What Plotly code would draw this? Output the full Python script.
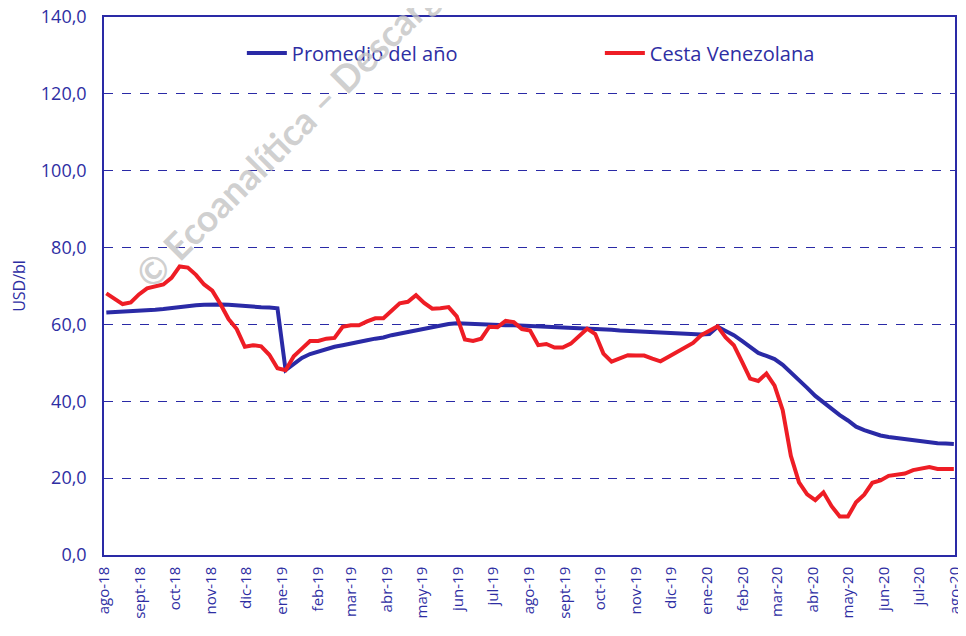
import datetime as dt
import plotly.graph_objects as go

# ---- data (weekly) ----
start_date = dt.date(2018, 8, 3)

cesta_venezolana = [
    68.1, 66.8, 65.3, 65.7, 67.8, 69.4, 69.9, 70.4, 72.1, 75.1,
    74.8, 72.9, 70.4, 68.8, 65.3, 61.4, 58.8, 54.2, 54.6, 54.3,
    52.1, 48.6, 48.1, 51.7, 53.7, 55.7, 55.7, 56.3, 56.5, 59.4,
    59.8, 59.8, 60.8, 61.6, 61.6, 63.4, 65.5, 65.9, 67.6, 65.6,
    64.1, 64.2, 64.5, 62.1, 56.1, 55.7, 56.3, 59.4, 59.3, 60.9,
    60.6, 58.8, 58.4, 54.6, 54.9, 54.0, 54.0, 55.0, 57.0, 58.9,
    57.5, 52.4, 50.3, 51.2, 52.0, 51.9, 51.9, 51.1, 50.4, 51.6,
    52.8, 54.2, 55.2, 57.2, 58.4, 59.5, 56.6, 54.6, 50.3, 45.9,
    45.3, 47.2, 44.1, 37.7, 25.8, 18.9, 15.8, 14.3, 16.3, 12.7,
    10.0, 10.0, 13.7, 15.7, 18.8, 19.4, 20.6, 20.8, 21.2, 22.1,
    22.6, 22.9, 22.4, 22.4, 22.4,
]

promedio_anio = [
    63.1, 63.2, 63.2, 63.3, 63.4, 63.6, 63.8, 64.0, 64.3, 64.6,
    64.9, 65.0, 65.1, 65.2, 65.2, 65.1, 64.9, 64.8, 64.7, 64.5,
    64.4, 64.2, 48.1, 49.8, 51.3, 52.3, 53.0, 53.5, 54.2, 54.6,
    55.1, 55.5, 55.9, 56.3, 56.6, 57.2, 57.6, 58.0, 58.6, 59.0,
    59.4, 59.8, 60.1, 60.3, 60.2, 60.0, 60.0, 59.9, 59.8, 59.8,
    59.8, 59.7, 59.7, 59.7, 59.6, 59.5, 59.3, 59.2, 59.1, 59.0,
    58.9, 58.7, 58.6, 58.4, 58.3, 58.1, 58.0, 57.9, 57.8, 57.6,
    57.5, 57.4, 57.4, 57.4, 57.5, 59.4, 58.3, 57.2, 55.7, 54.0,
    52.6, 51.8, 51.0, 49.5, 47.6, 45.6, 43.5, 41.4, 39.7, 38.0,
    36.4, 35.0, 33.4, 32.5, 31.8, 31.1, 30.7, 30.4, 30.1, 29.8,
    29.5, 29.3, 29.1, 29.0, 28.9,
]

weeks = [start_date + dt.timedelta(days=7 * i) for i in range(len(cesta_venezolana))]

tick_labels = [
    "ago-18", "sept-18", "oct-18", "nov-18", "dic-18", "ene-19", "feb-19",
    "mar-19", "abr-19", "may-19", "jun-19", "jul-19", "ago-19", "sept-19",
    "oct-19", "nov-19", "dic-19", "ene-20", "feb-20", "mar-20", "abr-20",
    "may-20", "jun-20", "jul-20", "ago-20",
]
tick_dates = []
y, m = 2018, 8
for _ in tick_labels:
    tick_dates.append(dt.date(y, m, 1))
    m += 1
    if m > 12:
        m, y = 1, y + 1

series_names = ["Promedio del año", "Cesta Venezolana"]

# ---- styling ----
BLUE = "#2A2AA6"
RED = "#EE1D25"
TXT = "#2E2EA3"
FONT = "Open Sans"

fig = go.Figure()
fig.add_trace(go.Scatter(
    x=weeks, y=promedio_anio, name=series_names[0], mode="lines",
    line=dict(color=BLUE, width=4),
))
fig.add_trace(go.Scatter(
    x=weeks, y=cesta_venezolana, name=series_names[1], mode="lines",
    line=dict(color=RED, width=4),
))

fig.add_annotation(
    text="<b>© Ecoanalítica – Descargado</b>",
    xref="paper", yref="paper", x=0.022, y=0.475,
    xanchor="left", yanchor="bottom",
    showarrow=False, textangle=-45,
    font=dict(family="Lato", size=37, color="rgba(195,195,195,0.8)"),
)

# the page body adds an 8px offset, so the figure is 8px smaller than the window
fig.update_layout(
    width=958, height=628,
    margin=dict(l=96, r=11, t=9, b=81, autoexpand=False),
    paper_bgcolor="white", plot_bgcolor="white",
    separators=",.",
    font=dict(family=FONT, color=TXT),
    showlegend=True,
    legend=dict(
        orientation="h", x=0.162, y=0.933, xanchor="left", yanchor="middle",
        font=dict(family=FONT, size=20, color=TXT),
        itemwidth=40, entrywidth=303, bgcolor="rgba(0,0,0,0)",
    ),
    xaxis=dict(
        type="date", automargin=False,
        range=[dt.date(2018, 8, 1), dt.date(2020, 8, 1)],
        tickmode="array", tickvals=tick_dates, ticktext=tick_labels,
        tickangle=-90, tickfont=dict(family=FONT, size=15, color=TXT),
        showgrid=False, zeroline=False,
        showline=True, linecolor=BLUE, linewidth=1.5, mirror=True,
        ticks="", ticklabelstandoff=4, ticklabeloverflow="allow",
    ),
    yaxis=dict(
        automargin=False,
        range=[0, 140], dtick=20, tickformat=".1f",
        tickfont=dict(family=FONT, size=18, color=TXT),
        showgrid=True, gridcolor=BLUE, griddash="dash", gridwidth=1,
        zeroline=False,
        showline=True, linecolor=BLUE, linewidth=1.5, mirror=True,
        ticks="", ticklabelstandoff=12, ticklabeloverflow="allow",
        title=dict(text="USD/bl", font=dict(family=FONT, size=16, color=TXT), standoff=14),
    ),
)

fig.write_html("out.html")
